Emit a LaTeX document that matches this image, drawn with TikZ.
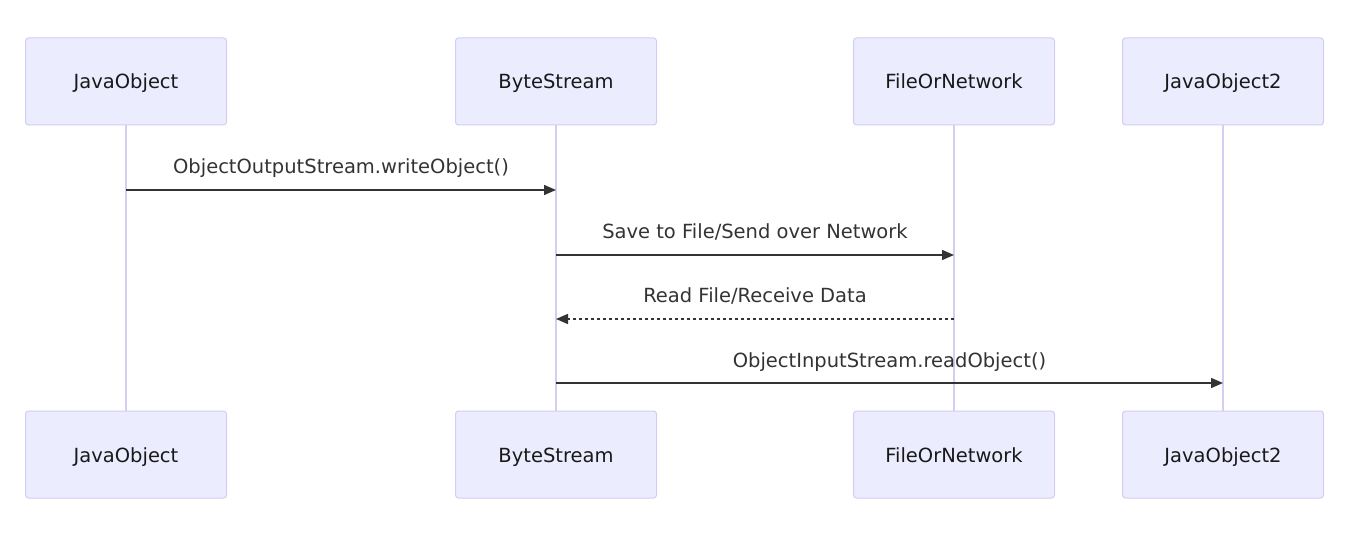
\documentclass[tikz,border=0pt]{standalone}
\usepackage{fontspec}
\setmainfont{DejaVu Sans}
\usetikzlibrary{arrows.meta,calc}
\definecolor{actfill}{HTML}{ECECFF}
\definecolor{actdraw}{HTML}{D4CCF2}
\definecolor{lifeline}{HTML}{D6CDF3}
\definecolor{msg}{HTML}{333333}
\tikzset{
  actor/.style={draw=actdraw, fill=actfill, line width=1pt, rounded corners=3pt,
    minimum width=201pt, minimum height=87pt, inner sep=0pt},
  actlbl/.style={anchor=base, inner sep=0pt, font=\fontsize{19.5}{22}\selectfont, text=black!90},
  life/.style={draw=lifeline, line width=2pt},
  msgline/.style={draw=msg, line width=1.5pt, -{Triangle[length=12pt,width=10pt]}},
  msgdash/.style={msgline, dash pattern=on 3pt off 3pt},
  lbl/.style={anchor=base, font=\fontsize{19.5}{22}\selectfont, text=msg, inner sep=0pt},
}
\newcommand{\actorpair}[4]{%
  \node[actor] (a#1) at (#2,81.5) {};
  \node[actlbl] at ($(a#1.center)+(0,7.5)$) {#3};
  \node[actor] (b#1) at (#2,454.5) {};
  \node[actlbl] at ($(b#1.center)+(0,7.5)$) {#3};
  \draw[life] (a#1.south) -- (b#1.north);
}
\begin{document}
\begin{tikzpicture}[x=1pt,y=-1pt]
\useasboundingbox (0,0) rectangle (1354,534);
\actorpair{1}{126}{JavaObject}{}
\actorpair{2}{556}{ByteStream}{}
\actorpair{3}{954}{FileOrNetwork}{}
\actorpair{4}{1223}{JavaObject2}{}
% message anchors
\coordinate (m1s) at (126,190); \coordinate (m1e) at (556,190);
\coordinate (m2s) at (556,255); \coordinate (m2e) at (954,255);
\coordinate (m3s) at (954,319); \coordinate (m3e) at (556,319);
\coordinate (m4s) at (556,383); \coordinate (m4e) at (1223,383);
\draw[msgline] (m1s) -- (m1e);
\draw[msgline] (m2s) -- (m2e);
\draw[msgdash] (m3s) -- (m3e);
\draw[msgline] (m4s) -- (m4e);
\node[lbl] (l1) at ($(m1s)!0.5!(m1e)+(0,-16)$) {ObjectOutputStream.writeObject()};
\node[lbl] (l2) at ($(m2s)!0.5!(m2e)+(0,-16)$) {Save to File/Send over Network};
\node[lbl] (l3) at ($(m3s)!0.5!(m3e)+(0,-16)$) {Read File/Receive Data};
\node[lbl] (l4) at ($(m4s)!0.5!(m4e)+(0,-16)$) {ObjectInputStream.readObject()};
\end{tikzpicture}
\end{document}
